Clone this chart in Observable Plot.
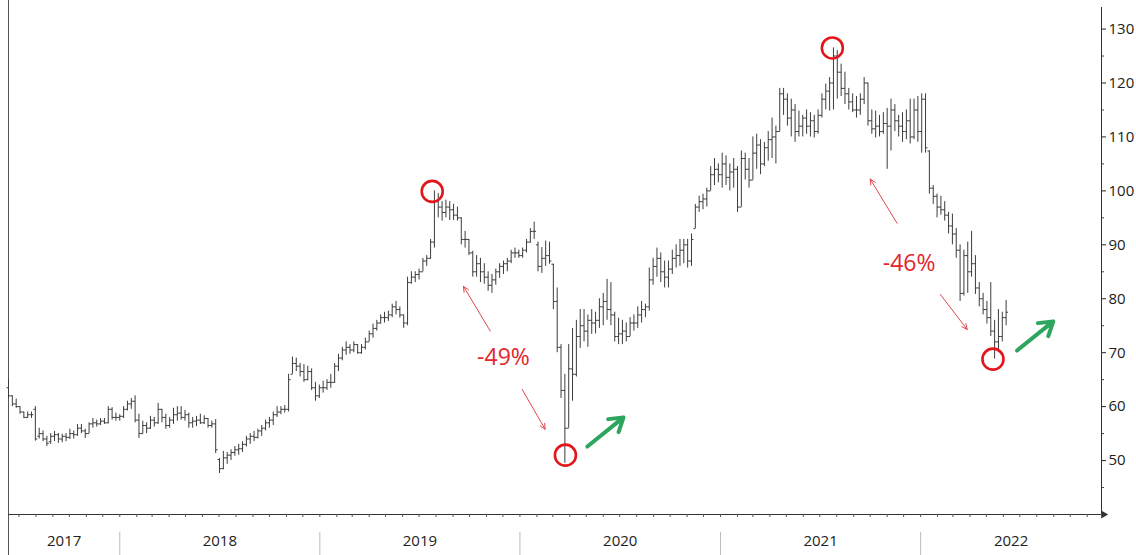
<!DOCTYPE html>
<html><head><meta charset="utf-8">
<script src="https://cdn.jsdelivr.net/npm/d3@7"></script>
<script src="https://cdn.jsdelivr.net/npm/@observablehq/plot@0.6"></script>
<style>html,body{margin:0;padding:0;background:#fff;overflow:hidden}svg{display:block}</style>
</head><body><div id="chart"></div>
<script>
// Weekly OHLC bars, first week starting 2017-06-12
const firstWeek = "2017-06-12";
const open = [63.5,62,60.5,60,59,58,58.5,59.5,54.5,55,54,53.5,54.5,54.8,54,54.5,54.3,55,54.8,56,55.5,55,56.8,57,56.8,57.3,57,59.5,58,58,58.2,59.5,60.5,61,57.5,55,56.5,56,57.5,57,59.5,58,56.5,57.5,58.5,58.8,58,58.5,57,57.3,57.5,57,57.8,56.5,56.8,50.2,48.5,50.5,51,51.5,52,52.2,53,54,54.5,54.3,55.5,56,57,57.5,58.5,59,59.5,59.5,66,68,67.5,66.5,65,66.5,63.5,62,63.5,63.5,64.5,64.5,67.5,69,70.5,71,70.5,71.5,70,71,72,73.5,74.5,75.5,76.5,76.5,77,78.5,78,77,75.5,83,84,84.5,85,87,87.5,90.5,98,97,96,97,96.5,95.5,95,91,91,88.5,85,86.5,85,84,82.5,83.5,85,86,86.5,87,88.5,88.5,88,89,90.5,92.5,90,86,87.5,88,86.4,79.5,71,63,56,67,66,73,75,74,76,75.5,76,78.5,79.5,78,77,73,73.5,74,73,75.5,75.5,77,78,78.5,83.5,86,87.5,85,84,85.5,87.5,88,89,90,87,93,97,98,98.5,100,103,104,103,105,102.5,103.5,104,97,106,104,102,107,108.5,105,108,109.5,110,111,118,117,113.5,115,111,112,113.5,112,113,111,114,117,118.5,120,125,122,119,118,116.5,115,115,117,120,113,111.5,112,111,112.5,112,115,113,112,111,113,110,115,111,117,107.4,100.5,99,97,96.5,95.5,93.5,92,89,81,88,85,86.5,82,80,78,76.5,74,72,73,76.5];
const high = [65,62,61.4,60,59,59,59,60,56,55.5,54.5,55,55.4,55,54.9,55,55.8,55.5,56.7,56.7,55.8,57,57.8,57.5,57.8,57.8,60,59.8,58.8,58.5,60,61,61.5,62,58.6,57.3,57,58.2,58,60.6,59.5,58.6,58,59.7,60,60,59.3,58.8,58,58.2,58.6,58.3,57.8,57.3,57.6,50.4,51.7,51.5,52,52.6,53,53.5,54.5,55,55.4,55.8,56.5,57.5,58,59,60,60,60.2,66,69.2,69,68,67.8,67.5,67,64.5,64,64.7,65,66,68,69.7,71,72,71.5,72,71.5,71.5,72.7,74,75.3,76,77,77.5,77.7,79,79.5,78.5,77,84,85,85,85.5,87.5,88,91,100,99.5,98,98.3,98,97.5,97,95,92.5,91,88.8,88,87.5,86.5,85,84.5,85.5,86.5,87,87.5,89,89.4,89,89.4,91,93,94.2,90.5,89.5,90.7,90.5,86.4,82,71.5,66,71.5,74.5,76,78,78,77,78,77.5,80,81,83.6,83,77.5,76.4,76,75.5,76.5,77,78.5,79.5,79,85.7,87.5,89.4,88.5,87,87,89,90,91,91,91,92,97.5,99,99.4,100.5,104.5,106,105,107,106.5,105,106,104.5,107.4,107,106,110,110.5,109.5,109,111,113.5,112,119,119,118,117,116,114.8,114,115,114.5,114,115,118,119.8,121,126.5,126,123.5,122,119,118,117.5,118,121,120,115,114.8,114,114.5,115.3,117,116,114,114.5,115,117,117,117.5,118,118,107.4,101,99.4,99,98,96,95.7,93,90,89,90.5,92.5,88,83,81,79.5,83,76,78,77.5,79.7];
const low = [61.5,60,59.7,58.6,57.8,57.8,57.8,53.6,54,53.5,52.6,53,53.5,53.2,53.3,53.5,53.9,54,54.5,55,54.1,55,56,56.2,56.5,56.7,56.8,57.5,57.3,57.3,57.8,59.2,59.5,57,54.1,54.9,55,55.8,56.2,56.7,57,55.8,56,56.7,57.3,57.5,57.3,56,56,56.3,56.7,56.7,56,56,51.3,47.6,48.3,49.3,50,50.8,51,51.5,52.5,53,53.5,54,54.5,55.5,56,56.5,58,58.5,58.8,59,66,66.5,65.5,64.5,64.8,63,61,61.5,62.5,63,63.4,64.3,66.5,68.5,69.5,69.7,70,69.7,69.7,70.5,72,72.7,74,75.3,75.5,75.8,76.5,77,76.4,74.5,75,82.7,83,83.5,85,86,87.3,89.4,95,94.4,95,94.5,94.5,94.4,90,89.4,88,84,84,83,82.7,81.4,81,82.5,83.8,84.5,85,86.5,87.5,87.5,87.5,88.5,90.3,91,85,84.7,86,86.4,78,70,61.5,49.5,56,61,65.5,70.8,72,71,73.4,73.5,74.5,75,76,75,72,71.5,71.5,72,73,74,74.5,75.5,76.5,77.7,82.5,84,83,82,82,84.5,85.7,86,86.5,85.7,86,93,96,96.5,97,100,101,101.5,100.5,101,100,100.5,96,97,102,100.5,102,104,103,104.5,105.5,106,105,111,114,112,110,109,110,110,110.5,110,109.8,110.5,113.5,115,114.8,115,117,117.5,116,115,114.5,113.5,114,116,112,110.5,109.8,110,110.5,104,107.4,111,110,109,109.5,108.7,109.5,109,107,107,99.4,97.5,95,95.5,94.4,92,90,87.5,79.5,80.5,81,84,80.8,78.5,77,75.3,73,68.8,70,72,75];
const close = [62,60.5,60,59,58,58.5,58.5,54,55,54,53.2,54.5,54.8,54,54.5,54.3,55,54.8,56,55.5,55,56.8,57,56.8,57.3,57,59.5,58,58,58.2,59.5,60.5,61,57.5,55,56.5,56,57.5,57,59.5,58,56.5,57.5,58.5,58.8,58,58.5,57,57.3,57.5,57,57.8,56.5,56.8,52,48.5,50.5,51,51.5,52,52.2,53,54,54.5,54.3,55.5,56,57,57.5,58.5,59,59.5,59.5,65,68,67.5,66.5,65,66.5,63.5,62,63.5,63.5,64.5,64.5,67.5,69,70.5,71,70.5,71.5,70,71,72,73.5,74.5,75.5,76.5,76.5,77,78.5,78,77,75.5,83,84,84.5,85,87,87.5,90.5,98,97,96,97,96.5,95.5,95,91,91,88.5,85,86.5,85,84,82.5,83.5,85,86,86.5,87,88.5,88.5,88,89,90.5,92.5,92.5,86,87.5,88,87,79.5,71,63,56,67,66,73,75,74,76,75.5,76,78.5,79.5,78,77,73,73.5,74,73,75.5,75.5,77,78,78.5,83.5,86,87.5,85,84,85.5,87.5,88,89,90,87,91,97,98,98.5,100,103,104,103,105,102.5,103.5,104,97,106,104,102,107,108.5,105,108,109.5,110,111,118,117,113.5,115,111,112,113.5,112,113,111,114,117,118.5,120,125,122,119,118,116.5,115,115,117,120,113,111.5,112,111,112.5,112,115,113,112,111,113,110,115,111,117,108,100.5,99,97,96.5,95.5,93.5,92,89,81,88,85,86.5,82,80,78,76.5,74,72,73,76.5,77.5];

// Axis labels
const yTicks = [50, 60, 70, 80, 90, 100, 110, 120, 130];
const yMinorTicks = [45, 55, 65, 75, 85, 95, 105, 115, 125];
const years = ["2017", "2018", "2019", "2020", "2021", "2022"];
const xStart = "2017-06-12", xEnd = "2022-11-27";

// Annotations
const circleDates = ["2019-07-25", "2020-03-24", "2021-07-24", "2022-05-13"];
const circleValues = [99.9, 51.0, 126.5, 68.8];
const redArrowFrom = [["2019-11-08", 74.0], ["2020-01-05", 63.2], ["2021-11-19", 94.0], ["2022-02-06", 80.8]];
const redArrowTo = [["2019-09-20", 82.3], ["2020-02-16", 55.8], ["2021-10-01", 102.2], ["2022-03-27", 74.3]];
const greenArrowFrom = [["2020-05-03", 52.6], ["2022-06-26", 70.4]];
const greenArrowTo = [["2020-07-08", 58.0], ["2022-08-31", 75.8]];
const pctTexts = ["-49%", "-46%"];
const pctDates = ["2019-12-02", "2021-12-11"];
const pctValues = [69.0, 86.6];

const D = s => new Date(s + "T00:00:00Z");
const start = D(firstWeek);
const DAY = 864e5;
const bars = close.map((c, i) => ({date: new Date(+start + 7 * i * DAY), open: open[i], high: high[i], low: low[i], close: c}));
const x0 = D(xStart), x1 = D(xEnd);
const yearStarts = years.slice(1).map(y => D(y + "-01-01"));
const bounds = [x0, ...yearStarts, x1];
const yearData = years.map((y, i) => ({label: y, mid: new Date((+bounds[i] + +bounds[i + 1]) / 2)}));
const circles = circleDates.map((d, i) => ({date: D(d), value: circleValues[i]}));
const redArrows = redArrowFrom.map((f, i) => ({xa: D(f[0]), ya: f[1], xb: D(redArrowTo[i][0]), yb: redArrowTo[i][1]}));
const greenArrows = greenArrowFrom.map((f, i) => ({xa: D(f[0]), ya: f[1], xb: D(greenArrowTo[i][0]), yb: greenArrowTo[i][1]}));
const pcts = pctTexts.map((t, i) => ({text: t, date: D(pctDates[i]), value: pctValues[i]}));
const months = d3.utcMonth.range(x0, x1);
const barColor = "#3c3c3c";

const chart = Plot.plot({
  width: 1136, height: 555,
  marginTop: 7, marginBottom: 41, marginLeft: 8, marginRight: 35,
  x: {type: "utc", domain: [x0, x1]},
  y: {domain: [40, 134]},
  style: {fontFamily: "'Open Sans', 'Noto Sans', sans-serif", background: "#fff", color: "#222"},
  marks: [
    Plot.ruleX([x0], {stroke: "#555", insetTop: -7, insetBottom: -41}),
    Plot.ruleY([40], {stroke: "#333"}),
    Plot.ruleX([x1], {stroke: "#333"}),
    Plot.dot([{x: x1, y: 40}], {x: "x", y: "y", symbol: "triangle", rotate: 90, r: 3, fill: "#333", dx: 2}),
    Plot.axisX({ticks: months, tickSize: 3, tickFormat: () => "", color: "#555"}),
    Plot.ruleX(yearStarts, {stroke: "#bbb", insetTop: 525, insetBottom: -41}),
    Plot.text(yearData, {x: "mid", text: "label", frameAnchor: "bottom", dy: 31, fontSize: 15, fill: "#222"}),
    Plot.axisY({anchor: "right", ticks: yTicks, tickSize: 4, tickPadding: 3, fontSize: 15, color: "#222"}),
    Plot.axisY({anchor: "right", ticks: yMinorTicks, tickSize: 2, tickFormat: () => "", color: "#444"}),
    Plot.ruleX(bars, {x: "date", y1: "low", y2: "high", stroke: barColor, strokeWidth: 1}),
    Plot.link(bars, {x1: d => new Date(+d.date - 3.5 * DAY), x2: "date", y1: "open", y2: "open", stroke: barColor, strokeWidth: 1}),
    Plot.link(bars, {x1: "date", x2: d => new Date(+d.date + 3.5 * DAY), y1: "close", y2: "close", stroke: barColor, strokeWidth: 1}),
    Plot.arrow(redArrows, {x1: "xa", y1: "ya", x2: "xb", y2: "yb", stroke: "#e0474c", strokeWidth: 1, headLength: 9, headAngle: 50}),
    Plot.arrow(greenArrows, {x1: "xa", y1: "ya", x2: "xb", y2: "yb", stroke: "#2ea55e", strokeWidth: 4, headLength: 15, headAngle: 65}),
    Plot.dot(circles, {x: "date", y: "value", r: 10.5, stroke: "#e3161c", strokeWidth: 2.6, fill: "none"}),
    Plot.text(pcts, {x: "date", y: "value", text: "text", fill: "#e3262b", fontSize: 23})
  ]
});
document.getElementById("chart").appendChild(chart);
</script>
</body></html>
